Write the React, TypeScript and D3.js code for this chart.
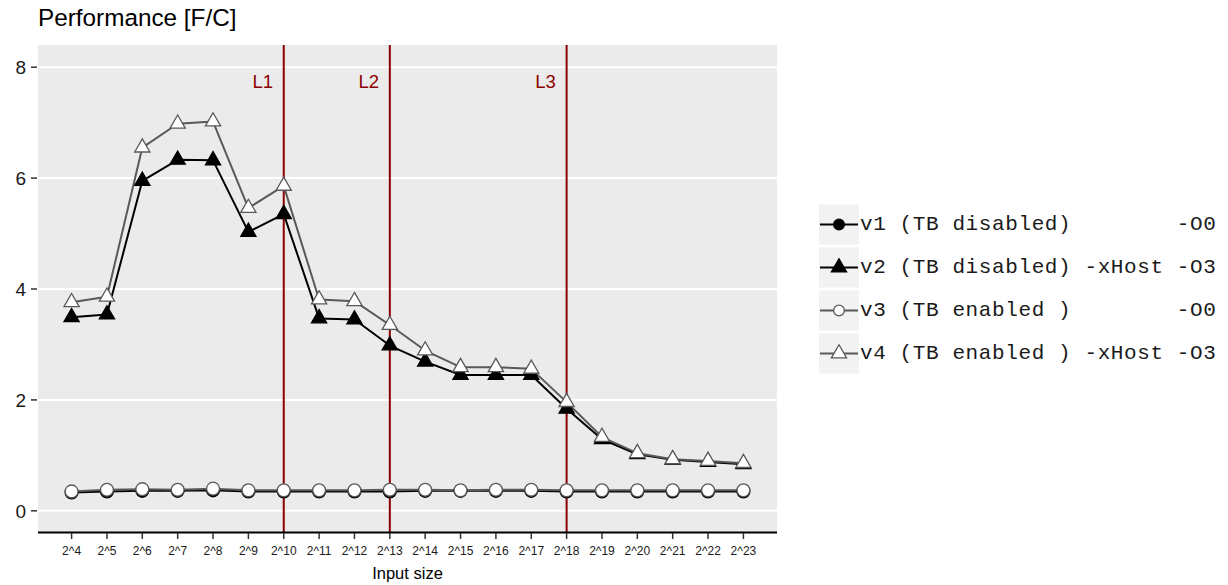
import React, { useEffect, useRef } from "react";
import * as d3 from "d3";

// input sizes as powers of two
const exponents = [4, 5, 6, 7, 8, 9, 10, 11, 12, 13, 14, 15, 16, 17, 18, 19, 20, 21, 22, 23];
const tickLabels = exponents.map((e) => "2^" + e);

const v1 = [0.33, 0.35, 0.36, 0.36, 0.37, 0.35, 0.35, 0.35, 0.35, 0.35, 0.36, 0.36, 0.36, 0.36, 0.35, 0.35, 0.35, 0.35, 0.35, 0.35];
const v2 = [3.49, 3.54, 5.95, 6.33, 6.32, 5.03, 5.35, 3.47, 3.45, 2.98, 2.69, 2.45, 2.45, 2.45, 1.84, 1.29, 1.02, 0.92, 0.88, 0.84];
const v3 = [0.35, 0.38, 0.39, 0.38, 0.4, 0.37, 0.37, 0.37, 0.37, 0.38, 0.38, 0.37, 0.38, 0.38, 0.37, 0.37, 0.37, 0.37, 0.37, 0.37];
const v4 = [3.76, 3.86, 6.55, 6.98, 7.02, 5.46, 5.86, 3.81, 3.78, 3.35, 2.89, 2.59, 2.59, 2.56, 1.96, 1.33, 1.04, 0.93, 0.9, 0.86];

const seriesNames = [
  "v1 (TB disabled)        -O0",
  "v2 (TB disabled) -xHost -O3",
  "v3 (TB enabled )        -O0",
  "v4 (TB enabled ) -xHost -O3",
];

// cache levels (exponent of input size)
const cacheLines = [10, 13, 18];
const cacheLabels = ["L1", "L2", "L3"];

const yTicks = [0, 2, 4, 6, 8];

const App = () => {
  const svgEl = useRef(null);

  useEffect(() => {
    document.body.style.margin = "0";
    if (!svgEl.current) return;
    drawChart(svgEl.current);
  }, [svgEl]);

  return <svg ref={svgEl} width={1228} height={585} style={{ display: "block" }}></svg>;
};

function drawChart(svgNode) {
  const svg = d3.select(svgNode);
  svg.selectAll("*").remove();

  const panel = { left: 38, right: 777, top: 45, bottom: 533 };
  const sans = "'Liberation Sans', Arial, Helvetica, sans-serif";
  const mono = "'Liberation Mono', 'Courier New', monospace";

  const x = d3.scaleLinear().domain([4 - 0.95, 23 + 0.95]).range([panel.left, panel.right]);
  const y = d3.scaleLinear().domain([-0.4, 8.4]).range([panel.bottom, panel.top]);

  // panel background
  svg
    .append("rect")
    .attr("x", panel.left)
    .attr("y", panel.top)
    .attr("width", panel.right - panel.left)
    .attr("height", panel.bottom - panel.top)
    .attr("fill", "#EBEBEB");

  // grid
  svg
    .append("g")
    .selectAll("line")
    .data(yTicks)
    .enter()
    .append("line")
    .attr("x1", panel.left)
    .attr("x2", panel.right)
    .attr("y1", (d) => y(d))
    .attr("y2", (d) => y(d))
    .attr("stroke", "#fff")
    .attr("stroke-width", 2);

  // cache boundaries
  const vl = svg.append("g");
  vl.selectAll("line")
    .data(cacheLines)
    .enter()
    .append("line")
    .attr("x1", (d) => x(d))
    .attr("x2", (d) => x(d))
    .attr("y1", panel.top)
    .attr("y2", panel.bottom)
    .attr("stroke", "#8B0000")
    .attr("stroke-width", 2);
  vl.selectAll("text")
    .data(cacheLines)
    .enter()
    .append("text")
    .attr("x", (d) => x(d) - 21)
    .attr("y", 88)
    .attr("text-anchor", "middle")
    .attr("font-family", sans)
    .attr("font-size", 18.5)
    .attr("fill", "#8B0000")
    .text((d, i) => cacheLabels[i]);

  const series = [
    { values: v1, color: "#000", shape: "circle", fill: "#000" },
    { values: v2, color: "#000", shape: "triangle", fill: "#000" },
    { values: v3, color: "#595959", shape: "circle", fill: "#fff" },
    { values: v4, color: "#595959", shape: "triangle", fill: "#fff" },
  ];

  const line = d3
    .line()
    .x((d, i) => x(exponents[i]))
    .y((d) => y(d));

  // lines first, then points
  series.forEach((s) => {
    svg
      .append("path")
      .attr("d", line(s.values))
      .attr("fill", "none")
      .attr("stroke", s.color)
      .attr("stroke-width", 2)
      .attr("stroke-linejoin", "round");
  });

  const tri = d3.symbol().type(d3.symbolTriangle).size(100);
  const circ = d3.symbol().type(d3.symbolCircle).size(130);

  series.forEach((s) => {
    svg
      .append("g")
      .selectAll("path")
      .data(s.values)
      .enter()
      .append("path")
      .attr("transform", (d, i) => "translate(" + x(exponents[i]) + "," + y(d) + ")")
      .attr("d", s.shape === "circle" ? circ() : tri())
      .attr("fill", s.fill)
      .attr("stroke", s.color)
      .attr("stroke-width", 1.3);
  });

  // x axis
  const xAxis = svg.append("g");
  xAxis
    .append("line")
    .attr("x1", panel.left)
    .attr("x2", panel.right)
    .attr("y1", panel.bottom - 0.5)
    .attr("y2", panel.bottom - 0.5)
    .attr("stroke", "#000")
    .attr("stroke-width", 2);
  xAxis
    .selectAll(".tick")
    .data(exponents)
    .enter()
    .append("line")
    .attr("x1", (d) => x(d))
    .attr("x2", (d) => x(d))
    .attr("y1", panel.bottom)
    .attr("y2", panel.bottom + 6)
    .attr("stroke", "#333")
    .attr("stroke-width", 1.5);
  xAxis
    .selectAll("text")
    .data(exponents)
    .enter()
    .append("text")
    .attr("x", (d) => x(d))
    .attr("y", 555)
    .attr("text-anchor", "middle")
    .attr("font-family", sans)
    .attr("font-size", 12)
    .attr("fill", "#1a1a1a")
    .text((d, i) => tickLabels[i]);

  svg
    .append("text")
    .attr("x", (panel.left + panel.right) / 2)
    .attr("y", 579)
    .attr("text-anchor", "middle")
    .attr("font-family", sans)
    .attr("font-size", 16.5)
    .attr("fill", "#000")
    .text("Input size");

  // y axis
  const yAxis = svg.append("g");
  yAxis
    .selectAll("line")
    .data(yTicks)
    .enter()
    .append("line")
    .attr("x1", panel.left - 7)
    .attr("x2", panel.left - 1)
    .attr("y1", (d) => y(d))
    .attr("y2", (d) => y(d))
    .attr("stroke", "#333")
    .attr("stroke-width", 1.5);
  yAxis
    .selectAll("text")
    .data(yTicks)
    .enter()
    .append("text")
    .attr("x", 26)
    .attr("y", (d) => y(d) + 7)
    .attr("text-anchor", "end")
    .attr("font-family", sans)
    .attr("font-size", 19)
    .attr("fill", "#1a1a1a")
    .text((d) => d);

  // title
  svg
    .append("text")
    .attr("x", 38)
    .attr("y", 26)
    .attr("font-family", sans)
    .attr("font-size", 24.3)
    .attr("fill", "#000")
    .text("Performance [F/C]");

  // legend
  const legend = svg.append("g");
  series.forEach((s, i) => {
    const cy = 224.5 + i * 43;
    const g = legend.append("g");
    g.append("rect")
      .attr("x", 819)
      .attr("y", cy - 20)
      .attr("width", 40)
      .attr("height", 40)
      .attr("fill", "#F2F2F2");
    g.append("line")
      .attr("x1", 820)
      .attr("x2", 858)
      .attr("y1", cy)
      .attr("y2", cy)
      .attr("stroke", s.color)
      .attr("stroke-width", 2);
    g.append("path")
      .attr("transform", "translate(839," + cy + ")")
      .attr("d", s.shape === "circle" ? d3.symbol().type(d3.symbolCircle).size(90)() : tri())
      .attr("fill", s.fill)
      .attr("stroke", s.color)
      .attr("stroke-width", 1.3);
    g.append("text")
      .attr("x", 860)
      .attr("y", cy + 5)
      .attr("font-family", mono)
      .attr("font-size", 21)
      .attr("letter-spacing", 0.6)
      .attr("fill", "#1a1a1a")
      .style("white-space", "pre")
      .text(seriesNames[i]);
  });
}

export default App;
